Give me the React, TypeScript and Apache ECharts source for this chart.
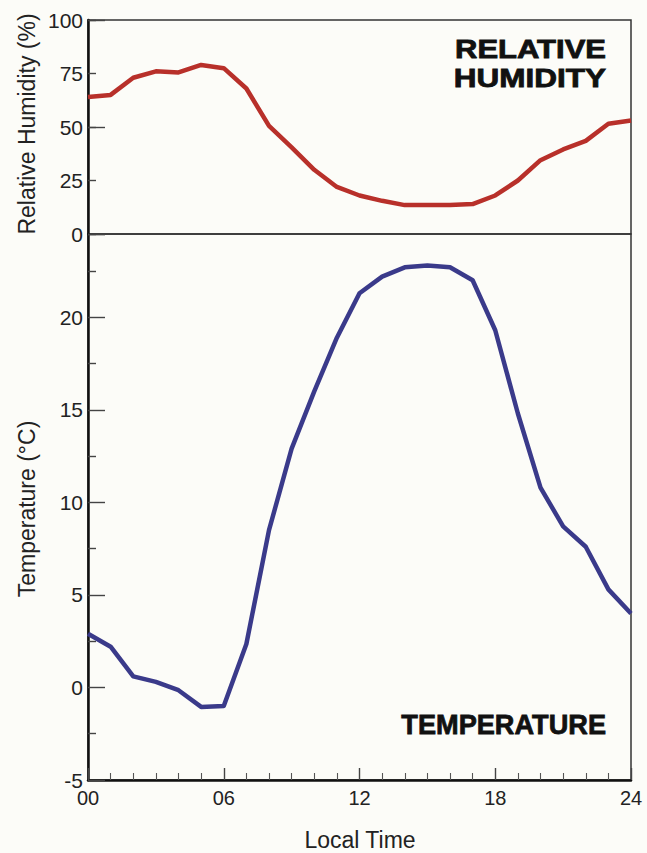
import React, { useEffect, useRef } from "react";
import * as echarts from "echarts";

const hours = [0, 1, 2, 3, 4, 5, 6, 7, 8, 9, 10, 11, 12, 13, 14, 15, 16, 17, 18, 19, 20, 21, 22, 23, 24];
const humidity = [64, 65, 73, 76, 75.5, 79, 77.5, 68, 50.5, 40.5, 30, 22, 18, 15.5, 13.5, 13.5, 13.5, 14, 18, 25, 34.5, 39.5, 43.5, 51.5, 53];
const temperature = [2.9, 2.2, 0.6, 0.3, -0.15, -1.05, -1.0, 2.35, 8.5, 12.9, 16.0, 18.9, 21.3, 22.2, 22.7, 22.8, 22.7, 22.0, 19.3, 14.8, 10.8, 8.7, 7.6, 5.3, 4.0];

const FONT = "'Liberation Sans', Arial, Helvetica, sans-serif";

export default function App() {
  const ref = useRef<HTMLDivElement>(null);
  useEffect(() => {
    if (!ref.current) return;
    const chart = echarts.init(ref.current, null, { renderer: "svg" });
    const axisText = { color: "#222", fontSize: 21, fontFamily: FONT };
    const tickStyle = { color: "#444", width: 1.4 };
    chart.setOption({
      animation: false,
      backgroundColor: "#fcfcf8",
      grid: [
        { left: 88, right: 16, top: 20, height: 214, show: true, borderColor: "#333", borderWidth: 1.5, backgroundColor: "transparent" },
        { left: 88, right: 16, top: 234, height: 546, show: true, borderColor: "#333", borderWidth: 1.5, backgroundColor: "transparent" },
      ],
      xAxis: [
        { type: "value", gridIndex: 0, min: 0, max: 24, interval: 6, show: false },
        {
          type: "value", gridIndex: 1, min: 0, max: 24, interval: 6, position: "bottom",
          axisLine: { show: true, onZero: false, lineStyle: { color: "#111", width: 2.5 } },
          axisTick: { show: true, inside: true, length: 12, lineStyle: tickStyle },
          minorTick: { show: true, splitNumber: 6, length: 7, lineStyle: { color: "#555", width: 1.1 } },
          axisLabel: { ...axisText, fontSize: 20, margin: 8, formatter: (v: number) => (v < 10 ? "0" + v : String(v)) },
          splitLine: { show: false },
        },
      ],
      yAxis: [
        {
          type: "value", gridIndex: 0, min: 0, max: 100, interval: 25,
          axisLine: { show: true, lineStyle: { color: "#111", width: 2.5 } },
          axisTick: { show: true, inside: true, length: 8, lineStyle: tickStyle },
          axisLabel: { ...axisText, margin: 5 },
          splitLine: { show: false },
        },
        {
          type: "value", gridIndex: 0, min: 0, max: 100, interval: 50, position: "left",
          axisLine: { show: false },
          axisTick: { show: true, inside: true, length: 17, lineStyle: tickStyle },
          axisLabel: { show: false },
          splitLine: { show: false },
        },
        {
          type: "value", gridIndex: 1, min: -5, max: 24.5, interval: 5,
          axisLine: { show: true, lineStyle: { color: "#111", width: 2.5 } },
          axisTick: { show: true, inside: true, length: 17, lineStyle: tickStyle },
          minorTick: { show: true, splitNumber: 2, length: 8, lineStyle: tickStyle },
          axisLabel: { ...axisText, margin: 5, formatter: (v: number) => (Math.abs(v % 5) < 1e-9 ? String(v) : "") },
          splitLine: { show: false },
        },
      ],
      series: [
        {
          type: "line", xAxisIndex: 0, yAxisIndex: 0, symbol: "none",
          data: hours.map((h, i) => [h, humidity[i]]),
          lineStyle: { color: "#b8302a", width: 4.5, join: "round" },
        },
        {
          type: "line", xAxisIndex: 1, yAxisIndex: 2, symbol: "none",
          data: hours.map((h, i) => [h, temperature[i]]),
          lineStyle: { color: "#3a3a8a", width: 4.5, join: "round" },
        },
      ],
      graphic: [
        { type: "text", x: 606, y: 50, scaleX: 1.24, style: { text: "RELATIVE", align: "right", verticalAlign: "middle", fontSize: 25, fontWeight: 900, fontFamily: FONT, fill: "#111", stroke: "#111", lineWidth: 0.8 } },
        { type: "text", x: 606, y: 78, scaleX: 1.26, style: { text: "HUMIDITY", align: "right", verticalAlign: "middle", fontSize: 25, fontWeight: 900, fontFamily: FONT, fill: "#111", stroke: "#111", lineWidth: 0.8 } },
        { type: "text", x: 606, y: 724, scaleX: 0.97, style: { text: "TEMPERATURE", align: "right", verticalAlign: "middle", fontSize: 28, fontWeight: 900, fontFamily: FONT, fill: "#111", stroke: "#111", lineWidth: 0.8 } },
        { type: "text", x: 27, y: 124, rotation: Math.PI / 2, style: { text: "Relative Humidity (%)", align: "center", verticalAlign: "middle", fontSize: 23, fontFamily: FONT, fill: "#222" } },
        { type: "text", x: 27, y: 509, rotation: Math.PI / 2, style: { text: "Temperature (°C)", align: "center", verticalAlign: "middle", fontSize: 23, fontFamily: FONT, fill: "#222" } },
        { type: "text", x: 360, y: 840, style: { text: "Local Time", align: "center", verticalAlign: "middle", fontSize: 23, fontFamily: FONT, fill: "#222" } },
      ],
    });
    return () => chart.dispose();
  }, []);
  return <div ref={ref} style={{ position: "fixed", left: 0, top: 0, width: 647, height: 853 }} />;
}
